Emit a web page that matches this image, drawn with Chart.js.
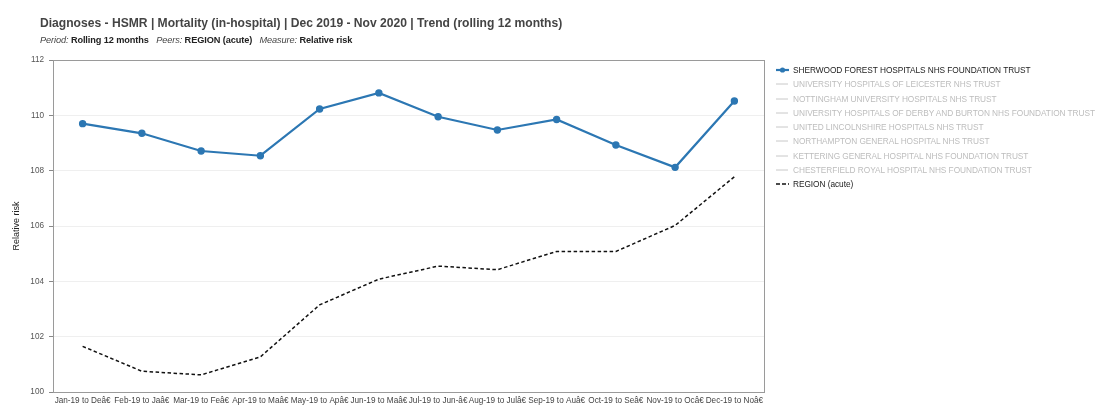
<!DOCTYPE html>
<html><head><meta charset="utf-8">
<script src="https://cdn.jsdelivr.net/npm/chart.js@4/dist/chart.umd.min.js"></script>
<style>
html,body{margin:0;padding:0;background:#fff;}
#wrap{position:relative;width:1097px;height:408px;overflow:hidden;font-family:"Liberation Sans",Arial,sans-serif;}
#title{position:absolute;left:40px;top:16px;font-size:12.1px;font-weight:bold;color:#444;white-space:nowrap;}
#sub{position:absolute;left:40px;top:35px;font-size:9.2px;color:#222;white-space:nowrap;letter-spacing:-0.1px;}
#sub i{color:#444;}
#legend{position:absolute;left:776px;top:63px;font-size:8.3px;letter-spacing:-0.05px;white-space:nowrap;}
.li{height:14.25px;line-height:14.25px;display:flex;align-items:center;}
.sym{width:13px;height:10px;margin-right:4px;position:relative;}
canvas{position:absolute;left:0;top:0;}
</style></head><body>
<div id="wrap">
<canvas id="c" width="1097" height="408"></canvas>
<div id="title">Diagnoses - HSMR | Mortality (in-hospital) | Dec 2019 - Nov 2020 | Trend (rolling 12 months)</div>
<div id="sub"><i>Period:</i> <b>Rolling 12 months</b> &nbsp; <i>Peers:</i> <b>REGION (acute)</b> &nbsp; <i>Measure:</i> <b>Relative risk</b></div>
<div id="legend"></div>
</div>
<script>
const categories = ["Jan-19 to De\u00e2\u20ac","Feb-19 to Ja\u00e2\u20ac","Mar-19 to Fe\u00e2\u20ac","Apr-19 to Ma\u00e2\u20ac","May-19 to Ap\u00e2\u20ac","Jun-19 to Ma\u00e2\u20ac","Jul-19 to Jun-\u00e2\u20ac","Aug-19 to Jul\u00e2\u20ac","Sep-19 to Au\u00e2\u20ac","Oct-19 to Se\u00e2\u20ac","Nov-19 to Oc\u00e2\u20ac","Dec-19 to No\u00e2\u20ac"];
const sherwood = [109.70,109.35,108.71,108.54,110.23,110.81,109.95,109.47,109.85,108.93,108.12,110.52];
const region = [101.65,100.75,100.62,101.27,103.15,104.08,104.55,104.42,105.08,105.08,106.02,107.78];
const peerNames = ["UNIVERSITY HOSPITALS OF LEICESTER NHS TRUST","NOTTINGHAM UNIVERSITY HOSPITALS NHS TRUST","UNIVERSITY HOSPITALS OF DERBY AND BURTON NHS FOUNDATION TRUST","UNITED LINCOLNSHIRE HOSPITALS NHS TRUST","NORTHAMPTON GENERAL HOSPITAL NHS TRUST","KETTERING GENERAL HOSPITAL NHS FOUNDATION TRUST","CHESTERFIELD ROYAL HOSPITAL NHS FOUNDATION TRUST"];
const yTicks = [100,102,104,106,108,110,112];
const mainName = "SHERWOOD FOREST HOSPITALS NHS FOUNDATION TRUST";
const regionName = "REGION (acute)";

const datasets = [
 {label: mainName, data: sherwood, borderColor:'#2c77b3', backgroundColor:'#2c77b3', borderWidth:2.2, pointRadius:2.6, pointHoverRadius:2.6, tension:0},
 ...peerNames.map(n=>({label:n, data:[], borderColor:'#c8c8c8', borderWidth:1, pointRadius:0})),
 {label: regionName, data: region, borderColor:'#111', borderWidth:1.5, borderDash:[3.5,2.5], pointRadius:0, tension:0}
];

const boxPlugin = {id:'box', afterDatasetsDraw(ch){const a=ch.chartArea,c=ch.ctx;c.save();c.strokeStyle='#9a9a9a';c.lineWidth=1;c.strokeRect(Math.round(a.left)+0.5,Math.round(a.top)+0.5,Math.round(a.right-a.left),Math.round(a.bottom-a.top));c.restore();}};

new Chart(document.getElementById('c'), {
 type:'line',
 data:{labels:categories, datasets},
 plugins:[boxPlugin],
 options:{
  responsive:false, animation:false,
  layout:{padding:{top:60,right:333,bottom:0,left:0}},
  plugins:{legend:{display:false}, tooltip:{enabled:false}},
  scales:{
   x:{offset:true, grid:{display:false, drawTicks:false}, border:{color:'#9a9a9a'},
      ticks:{autoSkip:false, maxRotation:0, minRotation:0, padding:4, color:'#444', font:{family:'Liberation Sans', size:8.2}},
      afterFit(s){s.height=16;}},
   y:{min:100,max:112, afterBuildTicks(s){s.ticks=yTicks.map(v=>({value:v}));},
      grid:{color:'#efefef', tickColor:'#888', tickLength:4}, border:{color:'#9a9a9a'},
      ticks:{color:'#555', padding:5, font:{family:'Liberation Sans', size:8.2}},
      title:{display:true, text:'Relative risk', color:'#222', font:{family:'Liberation Sans', size:9}, padding:{top:11,bottom:0}},
      afterFit(s){s.width=53;}}
  }
 }
});

const lg = document.getElementById('legend');
function item(name, kind){
 const d=document.createElement('div'); d.className='li';
 const s=document.createElement('div'); s.className='sym';
 if(kind==='main'){ s.innerHTML='<svg width="13" height="10"><line x1="0" y1="5" x2="13" y2="5" stroke="#2c77b3" stroke-width="2.2"/><circle cx="6.5" cy="5" r="2.6" fill="#2c77b3"/></svg>'; }
 else if(kind==='peer'){ s.innerHTML='<svg width="13" height="10"><line x1="0" y1="5" x2="12" y2="5" stroke="#c8c8c8" stroke-width="1"/></svg>'; }
 else { s.innerHTML='<svg width="13" height="10"><line x1="0" y1="5" x2="13" y2="5" stroke="#111" stroke-width="1.5" stroke-dasharray="4,2"/></svg>'; }
 const t=document.createElement('span'); t.textContent=name; t.style.color = kind==='peer' ? '#bdbdbd' : '#222';
 d.appendChild(s); d.appendChild(t); lg.appendChild(d);
}
item(mainName,'main'); peerNames.forEach(n=>item(n,'peer')); item(regionName,'region');
</script>
</body></html>
